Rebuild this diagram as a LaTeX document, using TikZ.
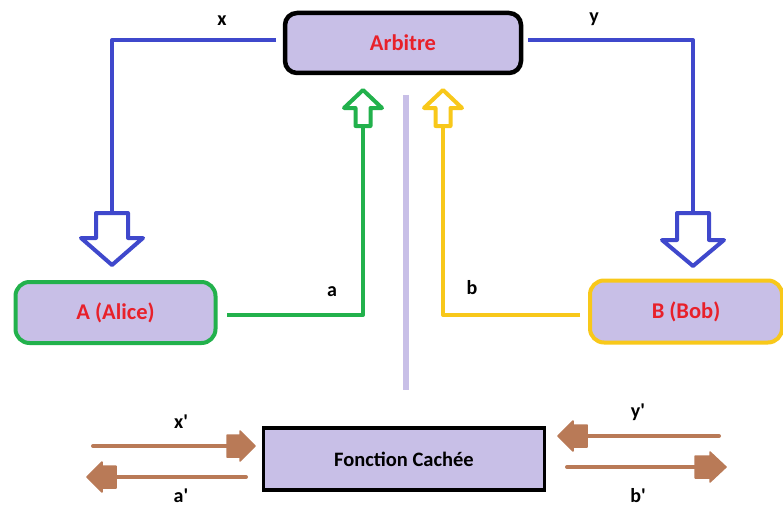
\documentclass[tikz,border=0pt]{standalone}
\usepackage{fontspec}
\setmainfont{Carlito}
\definecolor{lav}{HTML}{C8BFE7}
\definecolor{cblue}{HTML}{3F48CC}
\definecolor{cgreen}{HTML}{22B14C}
\definecolor{cyellow}{HTML}{F8C81A}
\definecolor{cbrown}{HTML}{B97A57}
\definecolor{cred}{HTML}{E8202A}
\begin{document}
\begin{tikzpicture}[x=1pt,y=-1pt,
  box/.style={fill=lav, font=\fontsize{22.5}{24}\selectfont\bfseries, text=cred, inner sep=0pt},
  lbl/.style={font=\fontsize{20}{22}\selectfont\bfseries, text=black, inner sep=0pt},
  wire/.style={line width=4pt, line join=round},
  brown/.style={line width=4pt, draw=cbrown, line cap=round},
  bhead/.style={fill=cbrown, draw=cbrown, line width=1.5pt, line join=round}]
\useasboundingbox (0,0) rectangle (783,508);

% boxes
\node[box, draw=black, line width=4.5pt, rounded corners=12pt, minimum width=236pt, minimum height=60pt] (arb) at (403,43) {Arbitre};
\node[box, draw=cgreen, line width=4pt, rounded corners=14pt, minimum width=200pt, minimum height=61pt] (alice) at (115.5,312.5) {A (Alice)};
\node[box, draw=cyellow, line width=4pt, rounded corners=14pt, minimum width=192pt, minimum height=62pt] (bob) at (686,311.5) {B (Bob)};
\node[box, draw=black, text=black, line width=3.5pt, minimum width=281pt, minimum height=62pt, font=\fontsize{20.5}{22}\selectfont\bfseries] (fc) at (404,459) {Fonction Cachée};

% separator
\coordinate (st) at (406,95);
\coordinate (sb) at (406,390);
\draw[lav, line width=6pt] (st) -- (sb);

% blue left
\coordinate (xs) at (276,40);
\coordinate (xt) at (112,213);
\draw[wire, cblue] (xs) -| (xt);
\draw[wire, cblue, fill=white] (xt) ++(-16,0) -- ++(0,25) -- ++(-15,0) -- (112,265) -- (143,238) -- ++(-15,0) -- ++(0,-25) -- cycle;
\node[lbl] (lx) at (222,21) {x};

% blue right
\coordinate (ys) at (528,40);
\coordinate (yt) at (693,213);
\draw[wire, cblue] (ys) -| (yt);
\draw[wire, cblue, fill=white] (yt) ++(-16,0) -- ++(0,27) -- ++(-15,0) -- (693,266) -- (724,240) -- ++(-15,0) -- ++(0,-27) -- cycle;
\node[lbl] (ly) at (594,19) {y};

% green
\coordinate (as) at (227,315);
\coordinate (at) at (363,126);
\draw[wire, cgreen] (as) -| (at);
\draw[wire, cgreen, fill=white] (at) ++(-7.5,0) -- ++(0,-18) -- ++(-11.5,0) -- (363,90) -- (382,108) -- ++(-11.5,0) -- ++(0,18) -- cycle;
\node[lbl] (la) at (332,292) {a};

% yellow
\coordinate (bs) at (580,315);
\coordinate (bt) at (443,126);
\draw[wire, cyellow] (bs) -| (bt);
\draw[wire, cyellow, fill=white] (bt) ++(-7.5,0) -- ++(0,-18) -- ++(-11.5,0) -- (443,90) -- (462,108) -- ++(-11.5,0) -- ++(0,18) -- cycle;
\node[lbl] (lb) at (472,288) {b};

% brown arrows
\coordinate (x1) at (93,446);
\coordinate (x2) at (228,446);
\draw[brown] (x1) -- (x2);
\draw[bhead] (227,435) -- (240,435) -- (240,431) -- (255,446) -- (240,461) -- (240,457) -- (227,457) -- cycle;
\node[lbl] (lxp) at (181,422) {x\textquotesingle};

\coordinate (a1) at (246,477);
\coordinate (a2) at (115,477);
\draw[brown] (a1) -- (a2);
\draw[bhead] (116,466) -- (102,466) -- (102,462) -- (87,477) -- (102,492) -- (102,488) -- (116,488) -- cycle;
\node[lbl] (lap) at (181,496) {a\textquotesingle};

\coordinate (y1) at (719,436);
\coordinate (y2) at (586,436);
\draw[brown] (y1) -- (y2);
\draw[bhead] (587,425) -- (573,425) -- (573,421) -- (558,436) -- (573,451) -- (573,447) -- (587,447) -- cycle;
\node[lbl] (lyp) at (638,412) {y\textquotesingle};

\coordinate (b1) at (567,467);
\coordinate (b2) at (696,467);
\draw[brown] (b1) -- (b2);
\draw[bhead] (695,456) -- (710,456) -- (710,452) -- (726,467) -- (710,482) -- (710,478) -- (695,478) -- cycle;
\node[lbl] (lbp) at (638,496) {b\textquotesingle};
\end{tikzpicture}
\end{document}
